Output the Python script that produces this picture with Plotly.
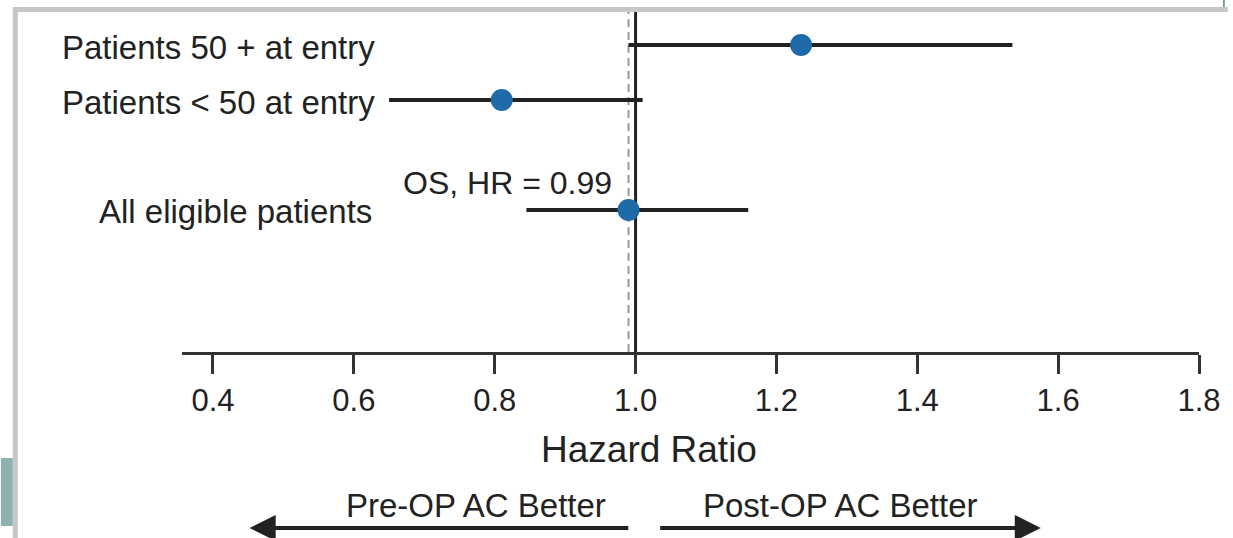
import plotly.graph_objects as go

# ---- data ----
labels = ["Patients 50 + at entry", "Patients < 50 at entry", "All eligible patients"]
hr = [1.235, 0.81, 0.99]
ci_low = [0.99, 0.65, 0.845]
ci_high = [1.535, 1.01, 1.16]
rows = [5, 4, 2]
overall_hr = 0.99
overall_label = "OS, HR = 0.99"
tick_vals = [0.4, 0.6, 0.8, 1.0, 1.2, 1.4, 1.6, 1.8]
tick_text = ["0.4", "0.6", "0.8", "1.0", "1.2", "1.4", "1.6", "1.8"]
x_title = "Hazard Ratio"
left_note = "Pre-OP AC Better"
right_note = "Post-OP AC Better"

# ---- layout geometry ----
W, H = 1233, 538
ML, MR, MT, MB = 182, 29, 12, 186
PW = W - ML - MR
PH = H - MT - MB


def px_x(p):
    return (p - ML) / PW


def px_y(p):
    return (H - MB - p) / PH


FONT = "Liberation Sans, Arial, sans-serif"
INK = "#222222"
BLUE = "#1f6aa8"

fig = go.Figure()

fig.add_trace(go.Scatter(
    x=hr, y=rows, mode="markers",
    marker=dict(size=22, color=BLUE, line=dict(width=0)),
    error_x=dict(type="data", symmetric=False,
                 array=[h - m for h, m in zip(ci_high, hr)],
                 arrayminus=[m - l for m, l in zip(hr, ci_low)],
                 thickness=4, width=0, color=INK),
    showlegend=False, hoverinfo="skip", cliponaxis=False,
))

shapes = [
    # reference line at HR = 1
    dict(type="line", xref="x", yref="paper", x0=1.0, x1=1.0, y0=0, y1=1,
         line=dict(color=INK, width=3), layer="below"),
    # overall HR dashed line
    dict(type="line", xref="x", yref="paper", x0=overall_hr, x1=overall_hr, y0=0, y1=1,
         line=dict(color="#9a9a9a", width=2, dash="8px,5px"), layer="below"),
    # screenshot frame decorations
    dict(type="rect", xref="paper", yref="paper", x0=px_x(12), x1=px_x(W), y0=px_y(12), y1=px_y(7),
         fillcolor="#c6c6c6", line=dict(width=0)),
    dict(type="rect", xref="paper", yref="paper", x0=px_x(12), x1=px_x(17), y0=px_y(H), y1=px_y(7),
         fillcolor="#c6c6c6", line=dict(width=0)),
    dict(type="rect", xref="paper", yref="paper", x0=px_x(0), x1=px_x(12), y0=px_y(526), y1=px_y(458),
         fillcolor="#8fb1b0", line=dict(width=0)),
    dict(type="rect", xref="paper", yref="paper", x0=px_x(1228), x1=px_x(1230), y0=px_y(7), y1=px_y(0),
         fillcolor="#7a9a9a", line=dict(width=0)),
]

annotations = []
label_x = [59, 59, 97]
for lab, r, lx in zip(labels, rows, label_x):
    annotations.append(dict(text=lab, x=px_x(lx), xref="paper", y=r, yref="y",
                            xanchor="left", yanchor="middle", yshift=-2, showarrow=False,
                            font=dict(family=FONT, size=33, color=INK)))

annotations.append(dict(text=overall_label, x=overall_hr, xref="x", y=rows[2], yref="y",
                        xanchor="right", yanchor="middle", xshift=-15, yshift=27, showarrow=False,
                        font=dict(family=FONT, size=32, color=INK)))

annotations.append(dict(text=x_title, x=px_x(651), xref="paper", y=px_y(450), yref="paper",
                        xanchor="center", yanchor="middle", showarrow=False,
                        font=dict(family=FONT, size=37, color=INK)))
annotations.append(dict(text=left_note, x=px_x(477), xref="paper", y=px_y(505), yref="paper",
                        xanchor="center", yanchor="middle", showarrow=False,
                        font=dict(family=FONT, size=33, color=INK)))
annotations.append(dict(text=right_note, x=px_x(844), xref="paper", y=px_y(505), yref="paper",
                        xanchor="center", yanchor="middle", showarrow=False,
                        font=dict(family=FONT, size=33, color=INK)))

# direction arrows
arrow_y = px_y(528)
annotations.append(dict(text="", x=px_x(250), xref="x domain", y=arrow_y, yref="paper",
                        ax=px_x(632), axref="x domain", ay=0, ayref="pixel",
                        showarrow=True, arrowhead=2, arrowsize=1.3, arrowwidth=4, arrowcolor=INK))
annotations.append(dict(text="", x=px_x(1045), xref="x domain", y=arrow_y, yref="paper",
                        ax=px_x(661), axref="x domain", ay=0, ayref="pixel",
                        showarrow=True, arrowhead=2, arrowsize=1.3, arrowwidth=4, arrowcolor=INK))

fig.update_layout(
    width=W, height=H,
    margin=dict(l=ML, r=MR, t=MT, b=MB, pad=0),
    paper_bgcolor="white", plot_bgcolor="white",
    shapes=shapes, annotations=annotations,
    xaxis=dict(range=[0.356, 1.8], tickvals=tick_vals, ticktext=tick_text,
               showline=True, linewidth=3, linecolor="#333333",
               ticks="outside", ticklen=19, tickwidth=2.5, tickcolor="#333333",
               tickfont=dict(family=FONT, size=31, color=INK),
               showgrid=False, zeroline=False, fixedrange=True),
    yaxis=dict(range=[-0.582, 5.6], visible=False, showgrid=False, zeroline=False, fixedrange=True),
    showlegend=False,
)

fig.write_html("out.html", config={"displayModeBar": False})
